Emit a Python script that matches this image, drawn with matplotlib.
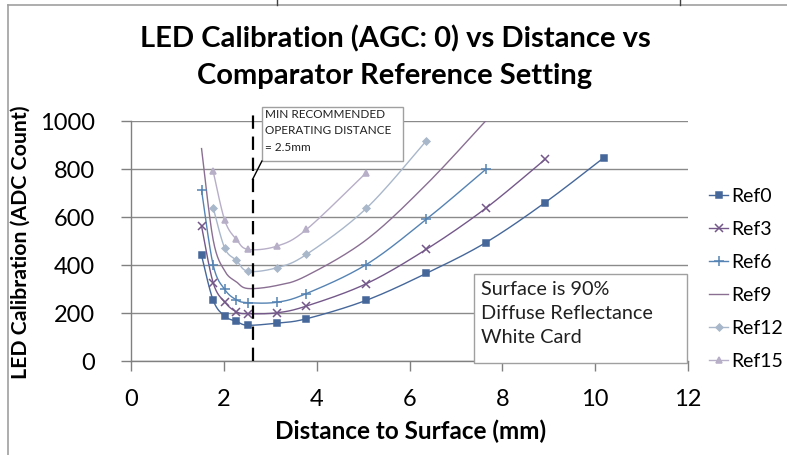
import numpy as np
import matplotlib
matplotlib.use("Agg")
import matplotlib.pyplot as plt
from matplotlib.patches import Rectangle
from matplotlib.lines import Line2D

plt.rcParams['font.family'] = ['Lato', 'DejaVu Sans']

# Measured calibration data
distance_mm = [1.52, 1.77, 2.02, 2.27, 2.52, 3.15, 3.78, 5.07, 6.36, 7.64, 8.92, 10.18]
ref0 = [440, 253, 187, 165, 149, 158, 176, 253, 365, 493, 660, 846]
ref3 = [562, 326, 245, 205, 197, 201, 229, 322, 465, 636, 840]
ref6 = [712, 400, 298, 255, 243, 245, 281, 402, 590, 798]
ref9 = [885, 505, 375, 330, 302, 315, 355, 505, 735, 1000]
ref12 = [639, 470, 420, 374, 389, 444, 636, 917]
ref15 = [791, 586, 507, 465, 479, 548, 785]

series_names = ["Ref0", "Ref3", "Ref6", "Ref9", "Ref12", "Ref15"]
series_vals = [ref0, ref3, ref6, ref9, ref12, ref15]
series_start = [0, 0, 0, 0, 1, 1]
series_colors = ["#45679a", "#74588a", "#5583b3", "#8a6f93", "#a9b7cb", "#b7aec8"]
series_markers = ["s", "x", "+", "None", "D", "^"]
series_msize = [4.5, 6, 7, 0, 3.5, 4.5]

min_distance = 2.62
x_ticks = [0, 2, 4, 6, 8, 10, 12]
y_ticks = [0, 200, 400, 600, 800, 1000]


def smooth(xs, ys, n=24):
    """Catmull-Rom curve through the points (spreadsheet-style smoothed line)."""
    p = np.column_stack([xs, ys]).astype(float)
    p = np.vstack([p[0], p, p[-1]])
    out = []
    for i in range(1, len(p) - 2):
        p0, p1, p2, p3 = p[i - 1], p[i], p[i + 1], p[i + 2]
        t = np.linspace(0, 1, n, endpoint=False)[:, None]
        c1 = p1 + (p2 - p0) / 6.0
        c2 = p2 - (p3 - p1) / 6.0
        seg = ((1 - t) ** 3) * p1 + 3 * ((1 - t) ** 2) * t * c1 + 3 * (1 - t) * t ** 2 * c2 + t ** 3 * p2
        out.append(seg)
    out.append(p[-2][None, :])
    out = np.vstack(out)
    return out[:, 0], out[:, 1]


fig = plt.figure(figsize=(7.87, 4.55), dpi=100)
ax = fig.add_axes([131 / 787, 1 - 361 / 455, (688 - 131) / 787, (361 - 121) / 455])

ax.set_xlim(0, 12)
ax.set_ylim(0, 1000)
ax.set_xticks(x_ticks)
ax.set_yticks(y_ticks)
ax.set_xticklabels([str(v) for v in x_ticks])
ax.set_yticklabels([str(v) for v in y_ticks])
ax.tick_params(axis='both', labelsize=17, colors='#808080', labelcolor='black',
               length=7, width=1, direction='out')
ax.tick_params(axis='x', pad=13)
ax.tick_params(axis='y', pad=19)
for side in ('top', 'right'):
    ax.spines[side].set_visible(False)
for side in ('left', 'bottom'):
    ax.spines[side].set_color('#808080')
    ax.spines[side].set_linewidth(1)
ax.yaxis.grid(True, color='#8a8a8a', linewidth=1)
ax.set_axisbelow(True)

handles = []
for name, vals, start, col, mk, ms in zip(series_names, series_vals, series_start,
                                          series_colors, series_markers, series_msize):
    xs = distance_mm[start:start + len(vals)]
    sx, sy = smooth(xs, vals)
    ax.plot(sx, sy, color=col, linewidth=1.0, zorder=3)
    if mk != "None":
        ax.plot(xs, vals, linestyle='none', marker=mk, markersize=ms, color=col,
                markeredgewidth=1.1, zorder=4)
    handles.append(Line2D([], [], color=col, linewidth=1.0, marker=None if mk == "None" else mk,
                          markersize=ms, markeredgewidth=1.1))

# Minimum recommended operating distance
ax.plot([min_distance, min_distance], [0, 1035], color='black', linestyle=(0, (6, 3.5)),
        linewidth=1.6, clip_on=False, zorder=5)
ax.add_patch(Rectangle((2.82, 833), 3.03, 227, facecolor='white', edgecolor='#a0a0a0',
                       linewidth=1, clip_on=False, zorder=6))
ax.plot([2.82, min_distance], [833, 757], color='black', linewidth=1, clip_on=False, zorder=6)
ax.text(2.88, 1050, "MIN RECOMMENDED\nOPERATING DISTANCE\n= 2.5mm", fontsize=8.5,
        va='top', ha='left', linespacing=1.6, color='#202020', zorder=7, clip_on=False)

# Surface note
ax.add_patch(Rectangle((7.40, -8), 4.58, 369, facecolor='white', edgecolor='#a0a0a0',
                       linewidth=1, clip_on=False, zorder=6))
ax.text(7.55, 333, "Surface is 90%\nDiffuse Reflectance\nWhite Card", fontsize=14.3,
        va='top', ha='left', linespacing=1.5, color='#202020', zorder=7)

leg = fig.legend(handles, series_names, loc='upper left', bbox_to_anchor=(709 / 787, 1 - 188 / 455),
                 frameon=False, fontsize=14, handlelength=1.0, handletextpad=0.15,
                 labelspacing=0.82, borderpad=0, borderaxespad=0)

fig.text(395 / 787, 1 - 57 / 455, "LED Calibration (AGC: 0) vs Distance vs\nComparator Reference Setting",
         ha='center', va='center', fontsize=21, fontweight='bold', linespacing=1.5)
fig.text(411 / 787, 1 - 431 / 455, "Distance to Surface (mm)", ha='center', va='center',
         fontsize=17.5, fontweight='bold')
fig.text(21 / 787, 1 - 242 / 455, "LED Calibration (ADC Count)", ha='center', va='center',
         rotation=90, fontsize=15.3, fontweight='bold')

# Chart frame edges
fig.add_artist(Line2D([8 / 787, 8 / 787], [0, 1 - 5 / 455], color='#a0a0a0', linewidth=1.2))
fig.add_artist(Line2D([8 / 787, 1], [1 - 5 / 455, 1 - 5 / 455], color='#a0a0a0', linewidth=1.2))
for xp in (277, 680):
    fig.add_artist(Line2D([xp / 787, xp / 787], [1 - 5 / 455, 1], color='#404040', linewidth=1))

fig.savefig("out.png", dpi=100)
